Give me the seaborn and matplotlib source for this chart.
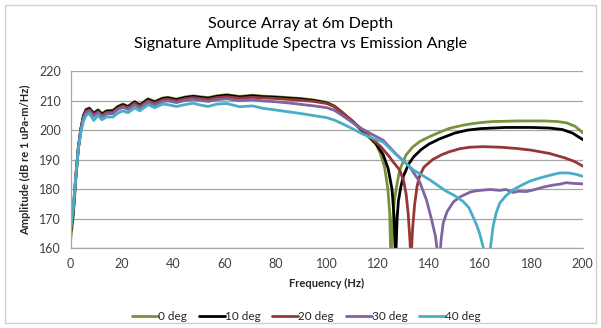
import pandas as pd
import numpy as np
import matplotlib
matplotlib.use("Agg")
import matplotlib.pyplot as plt
from matplotlib.lines import Line2D
from matplotlib.patches import Rectangle
import seaborn as sns

# --- Data ---
angle_labels = ["0 deg", "10 deg", "20 deg", "30 deg", "40 deg"]
angle_colors = ["#77933C", "#000000", "#953735", "#8064A2", "#4BACC6"]

# shared low-frequency grid (Hz)
freq_low = [0, 1, 2, 3, 4, 5, 6, 7.3, 9, 10.7, 12.2, 14, 16.5, 18.5, 20.4, 22.4,
            25, 27, 30.2, 32.8, 36, 38, 41.3, 44.5, 47.8, 50.5, 53.7, 57, 61, 66,
            71, 75, 80, 85, 90, 95, 100, 103, 106, 110]

green_low = [163, 170.5, 183.5, 194, 200.7, 205, 207, 207.5, 205.8, 206.9, 205.6,
             206.6, 206.7, 208.1, 208.8, 208.1, 209.7, 208.6, 210.6, 209.7, 210.9,
             211.1, 210.5, 211.2, 211.6, 211.3, 211.0, 211.6, 212.0, 211.4, 211.8,
             211.5, 211.3, 211.0, 210.7, 210.2, 209.4, 208.2, 206.1, 202.8]
black_low = [165.5, 172, 184, 194, 200.5, 204.8, 206.8, 207.3, 205.6, 206.7, 205.4,
             206.4, 206.5, 207.9, 208.6, 207.9, 209.5, 208.4, 210.4, 209.5, 210.7,
             210.9, 210.3, 211.0, 211.4, 211.1, 210.8, 211.4, 211.8, 211.2, 211.6,
             211.3, 211.1, 210.8, 210.5, 210.0, 209.2, 208.0, 205.9, 203.1]
red_low = [166, 173, 184.5, 194, 200.3, 204.5, 206.4, 206.9, 205.2, 206.3, 205.0,
           206.0, 206.1, 207.5, 208.2, 207.5, 209.1, 208.0, 210.0, 209.1, 210.3,
           210.5, 209.9, 210.6, 211.0, 210.7, 210.4, 211.0, 211.3, 210.8, 211.1,
           210.9, 210.7, 210.4, 210.1, 209.7, 209.0, 208.0, 206.0, 203.0]
purple_low = [166.5, 173, 184.5, 194, 200, 204, 205.9, 206.4, 204.7, 205.8, 204.5,
              205.5, 205.6, 207.0, 207.7, 207.0, 208.5, 207.5, 209.4, 208.5, 209.7,
              209.9, 209.3, 210.0, 210.4, 210.1, 209.7, 210.3, 210.6, 210.0, 210.3,
              209.9, 209.6, 209.2, 208.7, 208.2, 207.6, 206.7, 205.0, 202.6]
cyan_low = [167, 173.5, 184, 193.5, 199.5, 203, 205, 205.6, 203.3, 205.0, 203.5,
            204.5, 204.4, 205.8, 206.5, 205.9, 207.5, 206.5, 208.6, 207.6, 208.8,
            208.6, 208.0, 208.6, 209.1, 208.5, 208.0, 208.8, 209.0, 207.9, 208.2,
            207.4, 206.8, 206.2, 205.6, 204.9, 204.2, 203.4, 202.2, 200.5]

# high-frequency parts (notch region), one grid per angle
green_high_f = [113, 116, 119.4, 121, 122.6, 123.9, 124.6, 125.1, 125.6, 126.4, 127.2,
                128.5, 131, 133.5, 136.3, 139, 141.5, 145, 148, 152.9, 157, 160.7,
                165, 170, 175, 180, 185, 190, 193.5, 197, 200]
green_high_a = [200.4, 198, 195, 192, 187.5, 180, 172, 155, 168, 176, 180.5,
                186.5, 191.6, 194.2, 196.1, 197.3, 198.3, 199.6, 200.6, 201.6, 202.2, 202.6,
                202.9, 203.0, 203.1, 203.1, 203.1, 202.9, 202.5, 201.3, 199.1]

black_high_f = [113, 116, 119, 122, 124, 125.5, 126.3, 126.9, 127.5, 128, 129, 130,
                132, 134, 137, 140, 144, 150, 155, 160, 170, 180, 187, 192, 196, 200]
black_high_a = [200.6, 198.3, 195.7, 191.8, 187, 180, 171, 155, 170, 176, 181, 184.5,
                188.5, 191.0, 193.5, 195.3, 197.0, 199.0, 200.0, 200.5, 200.9, 200.9,
                200.7, 200.2, 199.0, 196.8]

red_high_f = [113, 117.4, 121, 124, 126, 128.5, 130, 131, 131.8, 132.5, 132.9, 133.5,
              134.3, 135.3, 136.3, 138, 141.5, 145, 148, 152, 155.8, 161, 168, 174, 180,
              187, 193, 197, 200]
red_high_a = [200.8, 197.3, 194.5, 191.5, 189.2, 186.5, 183, 178.5, 172, 163, 155, 166,
              174.5, 181, 184.5, 187.5, 190.1, 191.7, 192.7, 193.7, 194.2, 194.4, 194.2,
              193.8, 193.2, 192.1, 190.6, 189.3, 187.8]

purple_high_f = [113, 117, 122, 127.2, 132.4, 136.3, 139, 141, 142.5, 143.5, 144, 144.7,
                 145.5, 147, 149.6, 152.3, 156, 158, 161, 164, 167.6, 170, 172.8, 175,
                 178, 180, 183, 185, 188.5, 191, 193.5, 196, 200]
purple_high_a = [200.8, 198.9, 196.6, 191.8, 187.6, 182.5, 176.3, 169.6, 164, 157, 155,
                 163, 168.5, 172.4, 175.8, 177.5, 179.0, 179.4, 179.7, 179.9, 179.6, 179.9,
                 178.9, 179.3, 179.2, 179.6, 180.3, 180.8, 181.4, 181.7, 182.2, 182.0, 181.8]

cyan_high_f = [113.7, 118, 122, 127.2, 133.7, 140.2, 146.7, 150, 153.2, 155.5, 157.1,
               158.5, 159.7, 160.8, 162, 163.2, 164.2, 165, 166.2, 167.6, 170, 172.8,
               176, 179.3, 182.5, 185.8, 188.5, 191, 194.5, 197, 200]
cyan_high_a = [198.8, 197.2, 196, 191.7, 186.6, 183.2, 179.3, 177.8, 175.9, 173.8, 170.8,
               168, 165.1, 161.5, 157, 154, 162, 167.5, 172, 175.3, 177.8, 179.8,
               181.3, 182.7, 183.6, 184.4, 185, 185.5, 185.5, 185.1, 184.4]

x_ticks = [0, 20, 40, 60, 80, 100, 120, 140, 160, 180, 200]
y_ticks = [160, 170, 180, 190, 200, 210, 220]

# --- Build long-form frame ---
series = [
    (green_low, green_high_f, green_high_a),
    (black_low, black_high_f, black_high_a),
    (red_low, red_high_f, red_high_a),
    (purple_low, purple_high_f, purple_high_a),
    (cyan_low, cyan_high_f, cyan_high_a),
]
frames = []
for label, (low, hf, ha) in zip(angle_labels, series):
    frames.append(pd.DataFrame({"Frequency": list(freq_low) + list(hf),
                                "Amplitude": list(low) + list(ha),
                                "Angle": label}))
df = pd.concat(frames, ignore_index=True)

# --- Plot ---
sns.set_style("white")
plt.rcParams['font.family'] = ['Lato', 'DejaVu Sans']

fig = plt.figure(figsize=(6.01, 3.28), dpi=100)
ax = fig.add_axes([0.1176, 0.243, 0.852, 0.5405])

sns.lineplot(data=df, x="Frequency", y="Amplitude", hue="Angle",
             hue_order=angle_labels, palette=angle_colors, estimator=None,
             sort=False, linewidth=2.0, ax=ax, legend=False)

ax.set_xlim(0, 200)
ax.set_ylim(160, 220)
ax.set_xticks(x_ticks)
ax.set_yticks(y_ticks)
ax.tick_params(axis='both', labelsize=9, colors='#404040', length=4,
               width=0.8, direction='out', pad=3)
ax.tick_params(axis='both', color='#A6A6A6')
ax.yaxis.grid(True, color='#A6A6A6', linewidth=0.9)
ax.xaxis.grid(False)
for side in ['top', 'right']:
    ax.spines[side].set_visible(False)
for side in ['left', 'bottom']:
    ax.spines[side].set_color('#A6A6A6')
    ax.spines[side].set_linewidth(0.9)

ax.set_xlabel("Frequency (Hz)", fontsize=8, fontweight='bold', labelpad=6)
ax.set_ylabel("Amplitude (dB re 1 uPa-m/Hz)", fontsize=8, fontweight='bold', labelpad=6)

fig.text(0.5, 0.897, "Source Array at 6m Depth\nSignature Amplitude Spectra vs Emission Angle",
         ha='center', va='center', fontsize=11.6, linespacing=1.5, color='#000000')

handles = [Line2D([0], [0], color=c, linewidth=2.0) for c in angle_colors]
fig.legend(handles, angle_labels, loc='center', bbox_to_anchor=(0.51, 0.034),
           ncol=5, frameon=False, fontsize=8.5, handlelength=2.2,
           handletextpad=0.0, columnspacing=1.0)

fig.patches.append(Rectangle((0.008, 0.015), 0.984, 0.97, transform=fig.transFigure,
                             fill=False, edgecolor='#D0D0D0', linewidth=1.0))

fig.savefig("out.png", dpi=100)
